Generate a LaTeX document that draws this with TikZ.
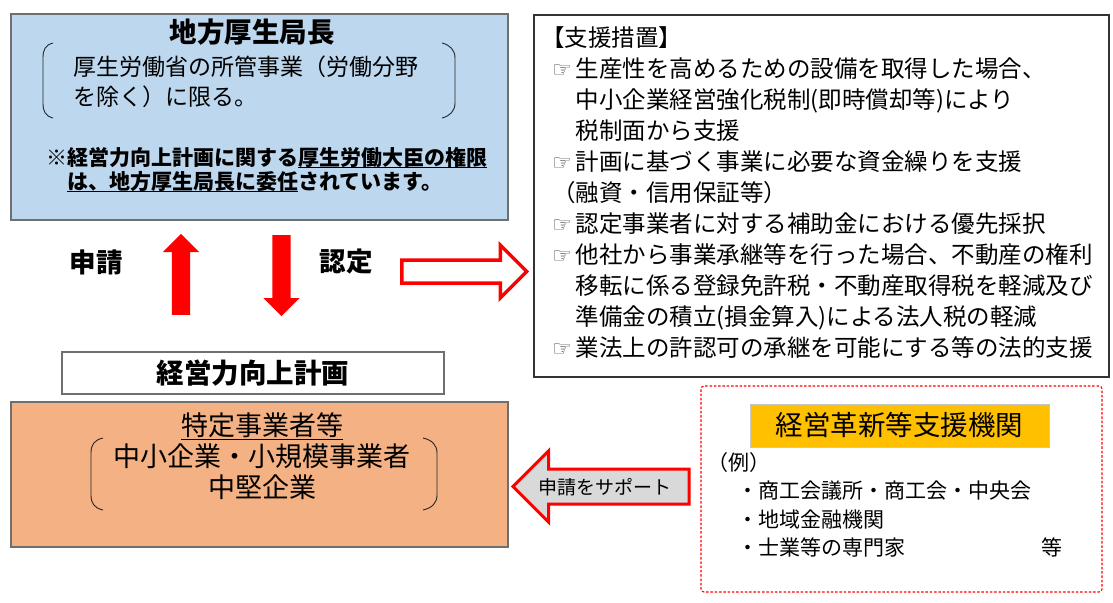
\documentclass[tikz,border=0pt]{standalone}
\usepackage{fontspec}
\setmainfont{Noto Sans CJK JP}
\newfontfamily\handfont{DejaVu Sans}
\usetikzlibrary{positioning,shapes.arrows}
\definecolor{kyokublue}{HTML}{BDD7EE}
\definecolor{jigyoorange}{HTML}{F4B183}
\definecolor{kikanyellow}{HTML}{FFC000}
\definecolor{framegray}{HTML}{6F6F6F}
\definecolor{supportgray}{HTML}{D9D9D9}
\newcommand\fs[2]{\fontsize{#1}{#2}\selectfont}
\newcommand\uln[2][-2.5pt]{\setbox0\hbox{#2}\rlap{\rule[#1]{\wd0}{1.3pt}}\box0}
\newcommand\hand{\makebox[1em][l]{\handfont\fontsize{22}{22}\selectfont\color{black!70}☞}}

\begin{document}
\begin{tikzpicture}[x=1pt, y=-1pt, node distance=2cm,
  panel/.style={draw=framegray, line width=1.3pt, inner sep=0pt},
  lines/.style={inner sep=0pt, align=left, anchor=north west},
  paren/.style={line width=0.9pt, black!85},
  redarrow/.style={single arrow, fill=red, inner sep=0pt, text height=18pt, text depth=0pt,
    single arrow head extend=9pt, minimum height=81pt, anchor=tail},
  hollow/.style={single arrow, draw=red, fill=white, line width=3.5pt, inner sep=0pt,
    text height=19.5pt, text depth=0pt, single arrow head extend=15pt, minimum height=125pt, anchor=tail},
  support/.style={single arrow, draw=red, fill=supportgray, line width=3pt, inner sep=0pt,
    text height=32pt, text depth=0pt, single arrow head extend=18pt, minimum height=176pt, anchor=tail}]
\useasboundingbox (0,0) rectangle (1113,602);

\node[panel, fill=kyokublue, minimum width=497pt, minimum height=206pt] (kyoku) at (259.5,117) {};
\node[font=\fs{27.5}{27.5}\bfseries] (kyokuchou) at (252,32) {地方厚生局長};
\node[lines, font=\fs{23}{30}] (shokan) at (73,55.5) {厚生労働省の所管事業（労働分野\\を除く）に限る。};
\draw[paren] (53,43) .. controls (45,45) and (43,50) .. (43,58) -- (43,103) .. controls (43,111) and (45,116) .. (53,118);
\draw[paren] (442,43) .. controls (450,45) and (455,50) .. (455,58) -- (455,103) .. controls (455,111) and (450,116) .. (442,118);
\node[lines, font=\fs{21}{24}\bfseries] (inin) at (46,147.5) {※経営力向上計画に関する\uln{厚生労働大臣の権限}\\　\uln{は、地方厚生局長に委任}されています。};

\node[draw=black!80, line width=1.2pt, minimum width=575pt, minimum height=362pt, inner sep=0pt] (sochi) at (821.5,196) {};
\node[lines, font=\fs{23.5}{31}] (sochilist) at (552,26) {\hspace*{-11pt}【支援措置】\\
\hand 生産性を高めるための設備を取得した場合、\\
　中小企業経営強化税制(即時償却等)により\\
　税制面から支援\\
\hand 計画に基づく事業に必要な資金繰りを支援\\
（融資・信用保証等）\\
\hand 認定事業者に対する補助金における優先採択\\
\hand 他社から事業承継等を行った場合、不動産の権利\\
　移転に係る登録免許税・不動産取得税を軽減及び\\
　準備金の積立(損金算入)による法人税の軽減\\
\hand 業法上の許認可の承継を可能にする等の法的支援};

\node[redarrow, rotate=90] (shinseiArr) at (181,315) {};
\node[redarrow, rotate=-90] (ninteiArr) at (281.5,235) {};
\node[font=\fs{26.5}{26.5}\bfseries] (shinsei) at (96,262) {申請};
\node[font=\fs{26.5}{26.5}\bfseries] (nintei) at (346,262) {認定};
\node[hollow] (sochiArr) at (400,271.5) {};

\node[panel, fill=white, minimum width=382pt, minimum height=42pt, font=\fs{27.5}{27.5}\bfseries] (keikaku) at (253,373) {経営力向上計画};

\node[panel, fill=jigyoorange, minimum width=497pt, minimum height=145pt] (jigyosha) at (259.5,474.5) {};
\node[font=\fs{27}{31}, align=center, inner sep=0pt] (jigyoshaname) at (262,456) {\uln[-5pt]{特定事業者等}\\中小企業・小規模事業者\\中堅企業};
\draw[paren] (103,438) .. controls (94,440) and (91,445) .. (91,453) -- (91,495) .. controls (91,503) and (94,508) .. (103,510);
\draw[paren] (423,438) .. controls (432,440) and (437,445) .. (437,453) -- (437,495) .. controls (437,503) and (432,508) .. (423,510);

\node[draw=red, line width=1.1pt, dash pattern=on 2.5pt off 1.8pt, rounded corners=3pt, minimum width=401pt, minimum height=206pt, inner sep=0pt] (kikan) at (901.5,489) {};
\node[fill=kikanyellow, draw=gray!45, line width=1pt, minimum width=299pt, minimum height=43pt, font=\fs{27.5}{27.5}] (kikanname) at (899.5,425.5) {経営革新等支援機関};
\node[lines, font=\fs{21}{28.3}] (rei) at (707,452.5) {（例）\\
\hspace*{30pt}・商工会議所・商工会・中央会\\
\hspace*{30pt}・地域金融機関\\
\hspace*{30pt}\makebox[304pt][l]{・士業等の専門家}等};

\node[support, rotate=180] (supportArr) at (690.5,486.5) {};
\node[font=\fs{19}{19}] (supportText) at (605,487) {申請をサポート};
\end{tikzpicture}
\end{document}
